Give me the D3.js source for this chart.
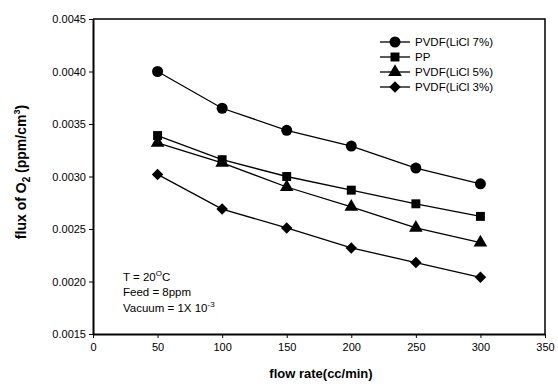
<!DOCTYPE html>
<html>
<head>
<meta charset="utf-8">
<script src="https://cdn.jsdelivr.net/npm/d3@7"></script>
<style>
body { margin: 0; background: #fff; }
svg { display: block; font-family: "Liberation Sans", Arial, sans-serif; }
</style>
</head>
<body>
<div id="chart"></div>
<script>
// data
var flowRates = [50, 100, 150, 200, 250, 300];
var seriesNames = ["PVDF(LiCl 7%)", "PP", "PVDF(LiCl 5%)", "PVDF(LiCl 3%)"];
var pvdf7 = [0.00400, 0.00365, 0.00344, 0.00329, 0.00308, 0.00293];
var pp    = [0.00339, 0.00316, 0.00300, 0.00287, 0.00274, 0.00262];
var pvdf5 = [0.00332, 0.00313, 0.00290, 0.00271, 0.00251, 0.00237];
var pvdf3 = [0.00302, 0.00269, 0.00251, 0.00232, 0.00218, 0.00204];
// diamond = square turned 45 degrees
var symbols = [d3.symbolCircle, d3.symbolSquare, d3.symbolTriangle, d3.symbolSquare];
var symRot = [0, 0, 0, 45];
var symSizes = [95, 80, 80, 66];
var xTicks = [0, 50, 100, 150, 200, 250, 300, 350];
var yTicks = [0.0015, 0.0020, 0.0025, 0.0030, 0.0035, 0.0040, 0.0045];

var W = 558, H = 388;
var pLeft = 93, pRight = 545, pTop = 19, pBottom = 334;

var svg = d3.select("#chart").append("svg")
    .attr("width", W)
    .attr("height", H);

var x = d3.scaleLinear().domain([0, 350]).range([pLeft, pRight]);
var y = d3.scaleLinear().domain([0.0015, 0.0045]).range([pBottom, pTop]);

// frame (top and right)
svg.append("path")
    .attr("d", "M" + pLeft + "," + pTop + "H" + pRight + "V" + pBottom)
    .attr("fill", "none")
    .attr("stroke", "#000")
    .attr("stroke-width", 1.5);

// axes
var xAxis = svg.append("g")
    .attr("transform", "translate(0," + pBottom + ")")
    .call(d3.axisBottom(x).tickValues(xTicks).tickSize(4).tickSizeOuter(0).tickPadding(5));
var yAxis = svg.append("g")
    .attr("transform", "translate(" + pLeft + ",0)")
    .call(d3.axisLeft(y).tickValues(yTicks).tickSize(4).tickSizeOuter(0).tickPadding(3)
        .tickFormat(d3.format(".4f")));
[xAxis, yAxis].forEach(function(a) {
    a.select(".domain").attr("stroke-width", 2);
    a.selectAll("text").attr("fill", "#000").style("font-size", "11px");
    a.attr("font-family", null);
});

// series
var allSeries = [pvdf7, pp, pvdf5, pvdf3];
var line = d3.line()
    .x(function(d, i) { return x(flowRates[i]); })
    .y(function(d) { return y(d); });

for (var s = 0; s < allSeries.length; s++) {
    svg.append("path")
        .datum(allSeries[s])
        .attr("d", line)
        .attr("fill", "none")
        .attr("stroke", "#000")
        .attr("stroke-width", 1.3);
    var sym = d3.symbol().type(symbols[s]).size(symSizes[s]);
    var rot = symRot[s];
    svg.selectAll(".m" + s)
        .data(allSeries[s])
        .enter().append("path")
        .attr("class", "m" + s)
        .attr("transform", function(d, i) {
            return "translate(" + x(flowRates[i]) + "," + y(d) + ") rotate(" + rot + ")";
        })
        .attr("d", sym)
        .attr("fill", "#000");
}

// legend
var legY = [42, 57, 72, 87];
for (var k = 0; k < seriesNames.length; k++) {
    var g = svg.append("g").attr("transform", "translate(380," + legY[k] + ")");
    g.append("line").attr("x1", 0).attr("x2", 30).attr("y1", 0).attr("y2", 0)
        .attr("stroke", "#000").attr("stroke-width", 1.3);
    g.append("path").attr("transform", "translate(15,0) rotate(" + symRot[k] + ")")
        .attr("d", d3.symbol().type(symbols[k]).size(symSizes[k]))
        .attr("fill", "#000");
    g.append("text").attr("x", 35).attr("y", 4)
        .style("font-size", "11.5px")
        .text(seriesNames[k]);
}

// conditions note
var note = svg.append("g").style("font-size", "11.5px");
var t1 = note.append("text").attr("x", 123).attr("y", 281);
t1.append("tspan").text("T = 20");
t1.append("tspan").attr("dy", -5).style("font-size", "8px").text("O");
t1.append("tspan").attr("dy", 5).text("C");
note.append("text").attr("x", 123).attr("y", 296).text("Feed = 8ppm");
var t3 = note.append("text").attr("x", 123).attr("y", 312);
t3.append("tspan").text("Vacuum = 1X 10");
t3.append("tspan").attr("dy", -5).style("font-size", "8px").text("-3");

// axis titles
svg.append("text")
    .attr("x", (pLeft + pRight) / 2 + 2)
    .attr("y", 378)
    .attr("text-anchor", "middle")
    .style("font-size", "13px")
    .style("font-weight", "bold")
    .text("flow rate(cc/min)");

var yt = svg.append("text")
    .attr("transform", "translate(26,172) rotate(-90)")
    .attr("text-anchor", "middle")
    .style("font-size", "14px")
    .style("font-weight", "bold");
yt.append("tspan").text("flux of O");
yt.append("tspan").attr("dy", 4).style("font-size", "10px").text("2");
yt.append("tspan").attr("dy", -4).text(" (ppm/cm");
yt.append("tspan").attr("dy", -6).style("font-size", "9px").text("3");
yt.append("tspan").attr("dy", 6).text(")");
</script>
</body>
</html>
